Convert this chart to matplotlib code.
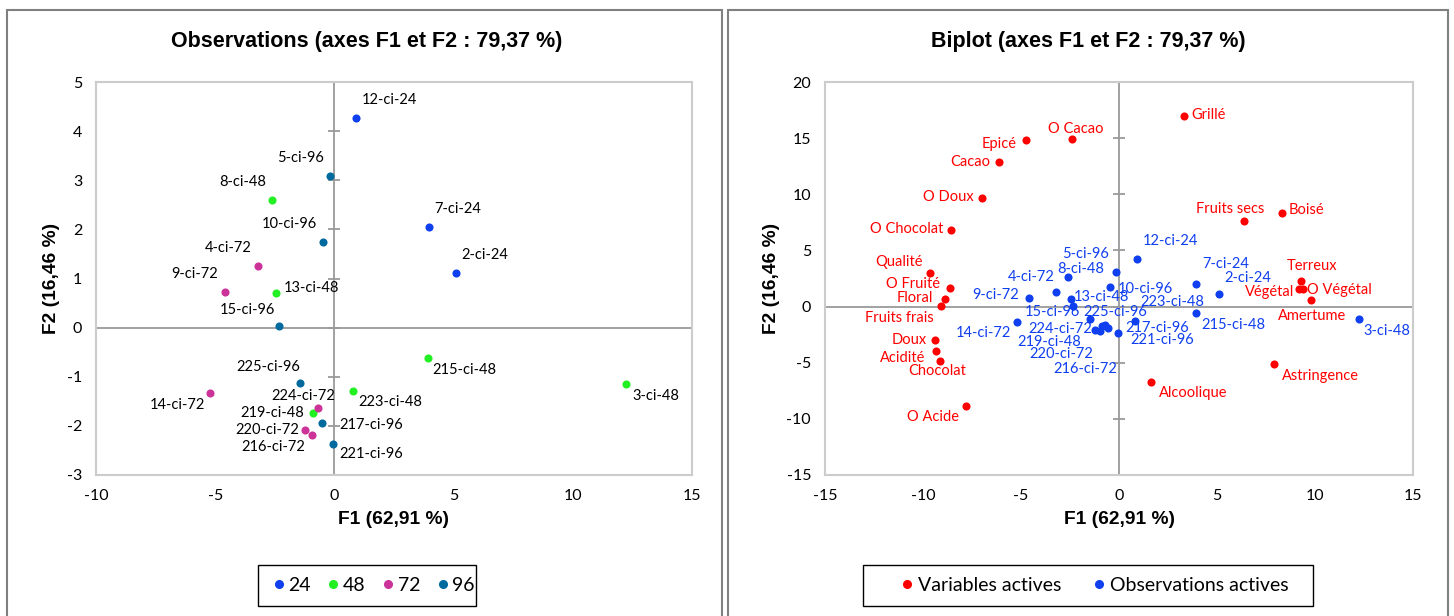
import matplotlib.pyplot as plt
import numpy as np
from matplotlib.patches import Rectangle
from matplotlib.lines import Line2D

# Observations (F1, F2 coordinates)
obs_names = ['12-ci-24', '5-ci-96', '8-ci-48', '7-ci-24', '10-ci-96', '4-ci-72', '2-ci-24',
             '9-ci-72', '13-ci-48', '15-ci-96', '215-ci-48', '225-ci-96', '3-ci-48', '14-ci-72',
             '223-ci-48', '224-ci-72', '219-ci-48', '217-ci-96', '220-ci-72', '216-ci-72', '221-ci-96']
obs_f1 = [0.91, -0.17, -2.60, 3.95, -0.47, -3.19, 5.09,
          -4.59, -2.47, -2.33, 3.91, -1.46, 12.25, -5.21,
          0.80, -0.70, -0.89, -0.54, -1.24, -0.95, -0.06]
obs_f2 = [4.27, 3.09, 2.59, 2.04, 1.74, 1.26, 1.12,
          0.73, 0.71, 0.03, -0.61, -1.12, -1.14, -1.33,
          -1.29, -1.64, -1.73, -1.94, -2.08, -2.18, -2.36]
obs_group = [24, 96, 48, 24, 96, 72, 24,
             72, 48, 96, 48, 96, 48, 72,
             48, 72, 48, 96, 72, 72, 96]
groups = [24, 48, 72, 96]

# Variables (biplot)
var_names = ['Grillé', 'O Cacao', 'Epicé', 'Cacao', 'O Doux', 'O Chocolat', 'Fruits secs',
             'Boisé', 'Qualité', 'O Fruité', 'Floral', 'Fruits frais', 'Terreux', 'Végétal',
             'O Végétal', 'Amertume', 'Doux', 'Acidité', 'Chocolat', 'O Acide', 'Alcoolique',
             'Astringence']
var_f1 = [3.32, -2.42, -4.76, -6.13, -7.01, -8.57, 6.40,
          8.33, -9.63, -8.64, -8.90, -9.07, 9.30, 9.20,
          9.41, 9.79, -9.40, -9.33, -9.12, -7.80, 1.62,
          7.93]
var_f2 = [17.0, 14.94, 14.80, 12.88, 9.70, 6.80, 7.60,
          8.30, 2.96, 1.67, 0.65, 0.06, 2.31, 1.57,
          1.57, 0.61, -3.02, -3.96, -4.84, -8.89, -6.75,
          -5.14]

title_left = 'Observations (axes F1 et F2 : 79,37 %)'
title_right = 'Biplot (axes F1 et F2 : 79,37 %)'
xlab = 'F1 (62,91 %)'
ylab = 'F2 (16,46 %)'

# label offsets in pixels (dx, dy), text centred
obs_off_left = [(33, 18), (-30, 18), (-30, 18), (29, 18), (-34, 18), (-30, 18), (29, 18),
                (-30, 18), (36, 5), (-31, 16), (37, -12), (-31, 16), (29, -12), (-33, -12),
                (37, -11), (-14, 12), (-41, 0), (50, -2), (-38, 0), (-38, -12), (38, -10)]
obs_off_right = [(34, 18), (-30, 18), (13, 8), (29, 20), (36, -2), (-25, 15), (29, 16),
                 (-33, 3), (31, 2), (-21, -6), (38, -12), (25, 7), (28, -12), (-33, -11),
                 (38, 19), (-45, -4), (-52, -16), (49, 0), (-33, -24), (-15, -38), (44, -7)]
var_off = [(24, 1), (4, 10), (-27, -4), (-29, 0), (-33, 1), (-44, 1), (-14, 12),
           (24, 3), (-31, 11), (-37, 4), (-30, 1), (-42, -12), (11, 15), (-30, -3),
           (36, -1), (1, -16), (-26, 0), (-33, -7), (-3, -10), (-33, -11), (42, -11),
           (46, -12)]

group_colors = {24: '#0f3fef', 48: '#22f022', 72: '#cc3399', 96: '#006a9e'}
red = '#ff0000'
blue = '#0f3fef'
box_gray = '#cccccc'
axis_gray = '#9a9a9a'

plt.rcParams['font.family'] = ['Lato', 'DejaVu Sans']
plt.rcParams['axes.unicode_minus'] = False
fig = plt.figure(figsize=(14.54, 6.16), dpi=100)
W, H = 1454, 616


def fpos(x0, y0, x1, y1):
    return [x0 / W, 1 - y1 / H, (x1 - x0) / W, (y1 - y0) / H]


def style_axes(ax, xlim, ylim, xticks, yticks):
    ax.set_xlim(xlim)
    ax.set_ylim(ylim)
    ax.set_xticks(xticks)
    ax.set_yticks(yticks)
    ax.tick_params(length=0, labelsize=11.5, pad=10)
    for s in ax.spines.values():
        s.set_color(box_gray)
        s.set_linewidth(1.5)
    ax.axhline(0, color=axis_gray, lw=1.3, zorder=1)
    ax.axvline(0, color=axis_gray, lw=1.3, zorder=1)
    ax.plot(np.zeros(len(yticks)), yticks, marker='_', ms=9, mew=1.3,
            ls='none', color=axis_gray, zorder=1, clip_on=False)
    ax.set_xlabel(xlab, fontsize=13.8, fontweight='bold', family='Liberation Sans', labelpad=6)
    ax.set_ylabel(ylab, fontsize=13.8, fontweight='bold', family='Liberation Sans', labelpad=5)


def frame_box(x0, y0, x1, y1, color, lw):
    fig.patches.append(Rectangle((x0 / W, 1 - y1 / H), (x1 - x0) / W, (y1 - y0) / H,
                                 transform=fig.transFigure, fill=False,
                                 edgecolor=color, lw=lw))


# Panel borders
frame_box(7, 10, 722, 650, '#808080', 1.5)
frame_box(728, 10, 1448, 650, '#808080', 1.5)

# Left: observations
ax1 = fig.add_axes(fpos(96, 82, 692, 475))
style_axes(ax1, (-10, 15), (-3, 5), np.arange(-10, 16, 5), np.arange(-3, 6, 1))
for g in groups:
    idx = [i for i, v in enumerate(obs_group) if v == g]
    ax1.scatter([obs_f1[i] for i in idx], [obs_f2[i] for i in idx], s=34,
                color=group_colors[g], zorder=3, linewidths=0)
for name, x, y, off in zip(obs_names, obs_f1, obs_f2, obs_off_left):
    ax1.annotate(name, (x, y), xytext=off, textcoords='offset pixels',
                 ha='center', va='center', fontsize=10.5, color='black', zorder=4)

# Right: biplot
ax2 = fig.add_axes(fpos(825, 82, 1413, 475))
style_axes(ax2, (-15, 15), (-15, 20), np.arange(-15, 16, 5), np.arange(-15, 21, 5))
ax2.scatter(var_f1, var_f2, s=34, color=red, zorder=3, linewidths=0)
ax2.scatter(obs_f1, obs_f2, s=34, color=blue, zorder=3, linewidths=0)
for name, x, y, off in zip(var_names, var_f1, var_f2, var_off):
    ax2.annotate(name, (x, y), xytext=off, textcoords='offset pixels',
                 ha='center', va='center', fontsize=10.5, color=red, zorder=4)
for name, x, y, off in zip(obs_names, obs_f1, obs_f2, obs_off_right):
    ax2.annotate(name, (x, y), xytext=off, textcoords='offset pixels',
                 ha='center', va='center', fontsize=10.5, color=blue, zorder=4)

# Titles
fig.text(367 / W, 1 - 42 / H, title_left, ha='center', va='center',
         fontsize=15.5, fontweight='bold', family='Liberation Sans')
fig.text(1088 / W, 1 - 42 / H, title_right, ha='center', va='center',
         fontsize=15.5, fontweight='bold', family='Liberation Sans')

# Legends (frames drawn separately to match the wide padding)
frame_box(258, 565, 476, 606, 'black', 1.0)
frame_box(863, 565, 1313, 606, 'black', 1.0)
h1 = [Line2D([], [], marker='o', ls='none', ms=5.5, color=group_colors[g]) for g in groups]
fig.legend(h1, [str(g) for g in groups], loc='center', ncol=4,
           bbox_to_anchor=(374 / W, 1 - 585.5 / H), fontsize=14,
           handletextpad=0.2, columnspacing=0.85, handlelength=0.6,
           frameon=False, borderpad=0, borderaxespad=0)
h2 = [Line2D([], [], marker='o', ls='none', ms=5.5, color=red),
      Line2D([], [], marker='o', ls='none', ms=5.5, color=blue)]
fig.legend(h2, ['Variables actives', 'Observations actives'], loc='center', ncol=2,
           bbox_to_anchor=(1095 / W, 1 - 585.5 / H), fontsize=14,
           handletextpad=0.3, columnspacing=1.6, handlelength=0.6,
           frameon=False, borderpad=0, borderaxespad=0)

fig.savefig('out.png', dpi=100)
